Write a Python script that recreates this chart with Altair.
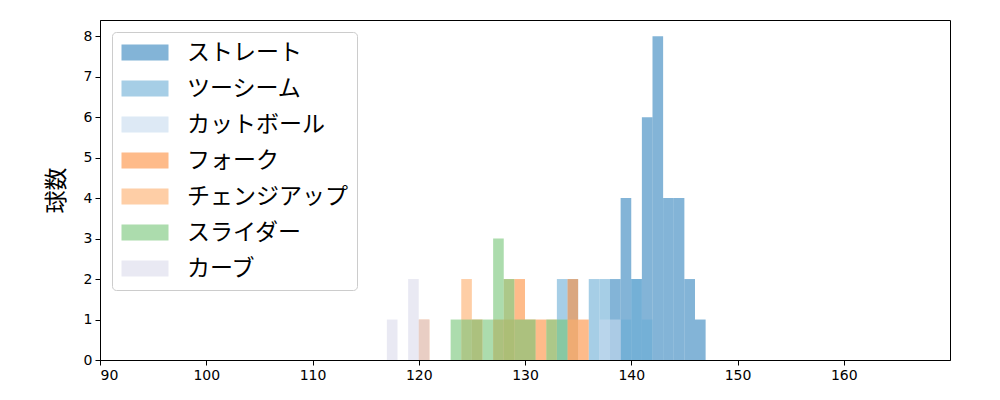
import altair as alt
import pandas as pd

pitches = ["ストレート", "ツーシーム", "カットボール", "フォーク", "チェンジアップ", "スライダー", "カーブ"]
colors = ["#3182bd", "#6baed6", "#c6dbef", "#fd8d3c", "#fdae6b", "#74c476", "#dadaeb"]

# bin left edges (km/h) and counts per pitch type
st_bins = [138, 139, 140, 141, 142, 143, 144, 145, 146]
st_counts = [2, 4, 2, 6, 8, 4, 4, 2, 1]
ts_bins = [133, 134, 136, 137, 139, 140, 141]
ts_counts = [2, 2, 2, 2, 1, 2, 1]
cb_bins = [137, 138]
cb_counts = [1, 1]
fo_bins = [120, 125, 127, 128, 129, 130, 131, 134, 135]
fo_counts = [1, 1, 1, 1, 2, 1, 1, 2, 1]
ch_bins = [124, 128, 132, 134]
ch_counts = [2, 2, 1, 1]
sl_bins = [123, 124, 125, 126, 127, 128, 129, 130, 132, 133]
sl_counts = [1, 1, 1, 1, 3, 2, 1, 1, 1, 1]
cu_bins = [117, 119, 120]
cu_counts = [1, 2, 1]

series = [
    (st_bins, st_counts), (ts_bins, ts_counts), (cb_bins, cb_counts),
    (fo_bins, fo_counts), (ch_bins, ch_counts), (sl_bins, sl_counts),
    (cu_bins, cu_counts),
]

rows = []
for order, (name, (bins, counts)) in enumerate(zip(pitches, series)):
    for b, c in zip(bins, counts):
        rows.append({"pitch": name, "start": b, "end": b + 1, "count": c, "base": 0, "ord": order})
df = pd.DataFrame(rows)

cjk = "Noto Sans CJK JP"
tick_font = "DejaVu Sans"

chart = alt.Chart(df).mark_rect(opacity=0.6).encode(
    x=alt.X("start:Q",
            scale=alt.Scale(domain=[90, 170], nice=False, zero=False),
            axis=alt.Axis(values=list(range(90, 170, 10)), title=None)),
    x2="end:Q",
    y=alt.Y("count:Q",
            scale=alt.Scale(domain=[0, 8.4], nice=False),
            axis=alt.Axis(values=list(range(0, 9)), title="球数",
                          titleFont=cjk, titleFontSize=23, titleFontWeight="normal",
                          titleColor="black", titleAngle=-90, titleX=-44, titleY=170,
                          titleAlign="center", titleBaseline="middle")),
    y2="base:Q",
    color=alt.Color("pitch:N",
                    scale=alt.Scale(domain=pitches, range=colors),
                    title=None,
                    legend=alt.Legend(orient="top-left", offset=12, padding=9,
                                      rowPadding=12,
                                      symbolType="M-1.375,-1L4.5,-1L4.5,1L-1.375,1Z",
                                      symbolSize=256, symbolStrokeWidth=0,
                                      symbolOpacity=0.6,
                                      labelFont=cjk, labelFontSize=23, labelOffset=43,
                                      labelColor="black", labelLimit=400,
                                      fillColor="white", strokeColor="#cccccc",
                                      cornerRadius=4)),
    order=alt.Order("ord:Q"),
).properties(
    width=850, height=340,
    autosize=alt.AutoSizeParams(type="none"),
    padding={"left": 92, "top": 12, "right": 42, "bottom": 32},
).configure_view(
    stroke="black", strokeWidth=1
).configure_axis(
    grid=False, domainColor="black", domainWidth=1,
    tickColor="black", tickSize=5, tickWidth=1,
    labelFont=tick_font, labelFontSize=14, labelColor="black", labelPadding=3,
)

chart.save("out.html", embed_options={"renderer": "svg", "actions": False})
